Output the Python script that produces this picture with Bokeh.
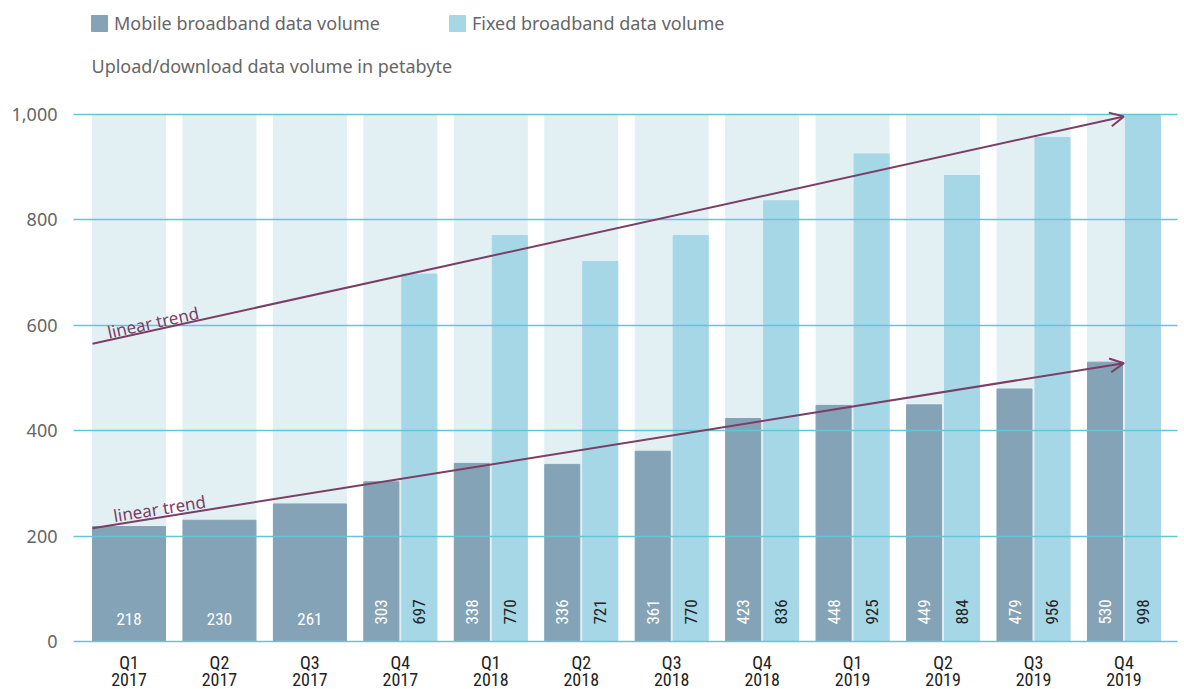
import math

from bokeh.core.properties import value
from bokeh.embed import file_html
from bokeh.models import (Arrow, ColumnDataSource, FixedTicker, Label, Legend,
                          LegendItem, NumeralTickFormatter, OpenHead, Range1d)
from bokeh.plotting import figure
from bokeh.resources import INLINE

# ---- data -------------------------------------------------------------
quarters = ["Q1", "Q2", "Q3", "Q4", "Q1", "Q2", "Q3", "Q4", "Q1", "Q2", "Q3", "Q4"]
years = ["2017", "2017", "2017", "2017", "2018", "2018", "2018", "2018",
         "2019", "2019", "2019", "2019"]
mobile = [218, 230, 261, 303, 338, 336, 361, 423, 448, 449, 479, 530]
fixed = [None, None, None, 697, 770, 721, 770, 836, 925, 884, 956, 998]
y_ticks = [0, 200, 400, 600, 800, 1000]
trend_mobile = [215, 528]   # start / end of the hand-drawn trend arrow
trend_fixed = [565, 996]

# ---- style -------------------------------------------------------------
MOBILE_C = "#84A3B7"
FIXED_C = "#A5D7E7"
BAND_C = "#E2F0F4"
GRID_C = "#62C6D9"
TREND_C = "#7B3E64"
TEXT_C = "#666666"
SANS = "Noto Sans"
NARROW = "Roboto Condensed, DejaVu Sans Condensed, Roboto"

W, H = 1184, 689
LEFT, RIGHT = 73, 7
FW, FH = W - LEFT - RIGHT, H

band_w = 0.807           # share of a category covered by its band
bar_w = 0.387            # width of one bar when two share a band
bar_off = 0.21           # offset of each bar from the band centre

# the frame spans the full height: header above, quarter labels below
x0, x1 = -0.6136, 11.592
y0, y1 = -91.0, 1216.0
sx = FW / (x1 - x0)      # px per category
sy = FH / (y1 - y0)      # px per petabyte

def px_to_y(px_from_bottom):
    return y0 + px_from_bottom / sy

n = len(mobile)
idx = list(range(n))

p = figure(width=W, height=H, x_range=Range1d(x0, x1), y_range=Range1d(y0, y1),
           output_backend="svg", toolbar_location=None, x_axis_location=None,
           min_border_left=LEFT, min_border_right=RIGHT,
           min_border_top=0, min_border_bottom=0)
p.outline_line_color = None
p.background_fill_color = "white"
p.border_fill_color = "white"

# light column bands behind each quarter
p.vbar(x=idx, bottom=0, top=y_ticks[-1], width=band_w, color=BAND_C)

# mobile bars: full band when alone, left half when paired with fixed
m_x = [i - bar_off if f is not None else i for i, f in zip(idx, fixed)]
m_w = [bar_w if f is not None else band_w for f in fixed]
m_src = ColumnDataSource(dict(x=m_x, top=mobile, w=m_w))
r_mob = p.vbar(x="x", top="top", bottom=0, width="w", source=m_src, color=MOBILE_C)

f_idx = [i for i, f in zip(idx, fixed) if f is not None]
f_val = [f for f in fixed if f is not None]
f_src = ColumnDataSource(dict(x=[i + bar_off for i in f_idx], top=f_val))
r_fix = p.vbar(x="x", top="top", bottom=0, width=bar_w, source=f_src, color=FIXED_C)

# value labels at the foot of the bars
single = [i for i, f in zip(idx, fixed) if f is None]
pair = [i for i, f in zip(idx, fixed) if f is not None]
p.text(x=single, y=[23 / sy] * len(single), text=[str(mobile[i]) for i in single],
       text_align="center", text_baseline="middle", text_color="white",
       text_font=value(NARROW), text_font_size="17px")
p.text(x=[i - bar_off for i in pair], y=[29.5 / sy] * len(pair),
       text=[str(mobile[i]) for i in pair], angle=math.pi / 2,
       text_align="center", text_baseline="middle", text_color="white",
       text_font=value(NARROW), text_font_size="17px")
p.text(x=[i + bar_off for i in pair], y=[29.5 / sy] * len(pair),
       text=[str(fixed[i]) for i in pair], angle=math.pi / 2,
       text_align="center", text_baseline="middle", text_color="#222222",
       text_font=value(NARROW), text_font_size="17px")

# trend arrows with their labels
def trend(vals, label_dx, label_gap):
    xs, xe = -band_w / 2, idx[-1]
    p.add_layout(Arrow(x_start=xs, y_start=vals[0], x_end=xe, y_end=vals[1],
                       line_color=TREND_C, line_width=2,
                       end=OpenHead(size=14, line_color=TREND_C, line_width=2)))
    slope = (vals[1] - vals[0]) / (xe - xs)
    ang = math.atan2(slope * sy, sx)
    lx = xs + label_dx
    ly = vals[0] + slope * label_dx + label_gap / sy
    p.add_layout(Label(x=lx, y=ly, text="linear trend", angle=ang,
                       text_align="left", text_baseline="alphabetic",
                       text_color=TREND_C, text_font=SANS, text_font_size="17px"))

trend(trend_fixed, 0.166, 8)
trend(trend_mobile, 0.232, 9)

# grid and value axis
p.xgrid.grid_line_color = None
p.ygrid.ticker = FixedTicker(ticks=y_ticks)
p.ygrid.grid_line_color = GRID_C
p.ygrid.grid_line_width = 1.5
p.ygrid.level = "guide"

p.yaxis.ticker = FixedTicker(ticks=y_ticks)
p.yaxis.formatter = NumeralTickFormatter(format="0,0")
p.yaxis.axis_line_color = None
p.yaxis.major_tick_line_color = None
p.yaxis.major_tick_out = 0
p.yaxis.major_tick_in = 0
p.yaxis.minor_tick_line_color = None
p.yaxis.major_label_standoff = 16
p.yaxis.major_label_text_font = SANS
p.yaxis.major_label_text_font_size = "18px"
p.yaxis.major_label_text_color = TEXT_C

# quarter / year labels under each band
for i, q, yr in zip(idx, quarters, years):
    for txt, off in ((q, 27), (yr, 10)):
        p.add_layout(Label(x=i, y=px_to_y(off), text=txt,
                           text_align="center", text_baseline="middle",
                           text_font=NARROW, text_font_size="18px",
                           text_color="#222222"))

# legend and unit caption above the plot
legend = Legend(items=[LegendItem(label="Mobile broadband data volume", renderers=[r_mob]),
                       LegendItem(label="Fixed broadband data volume", renderers=[r_fix])],
                orientation="horizontal", location=(16, FH - 35),
                glyph_width=20, glyph_height=20, label_standoff=5, spacing=67,
                padding=0, margin=0, border_line_color=None,
                background_fill_alpha=0,
                label_text_font=SANS, label_text_font_size="18px",
                label_text_color=TEXT_C)
p.add_layout(legend)

p.add_layout(Label(x=18, y=FH - 65, x_units="screen", y_units="screen",
                   text="Upload/download data volume in petabyte",
                   text_align="left", text_baseline="middle",
                   text_font=SANS, text_font_size="18px", text_color=TEXT_C))

open("out.html", "w").write(file_html(p, INLINE))
